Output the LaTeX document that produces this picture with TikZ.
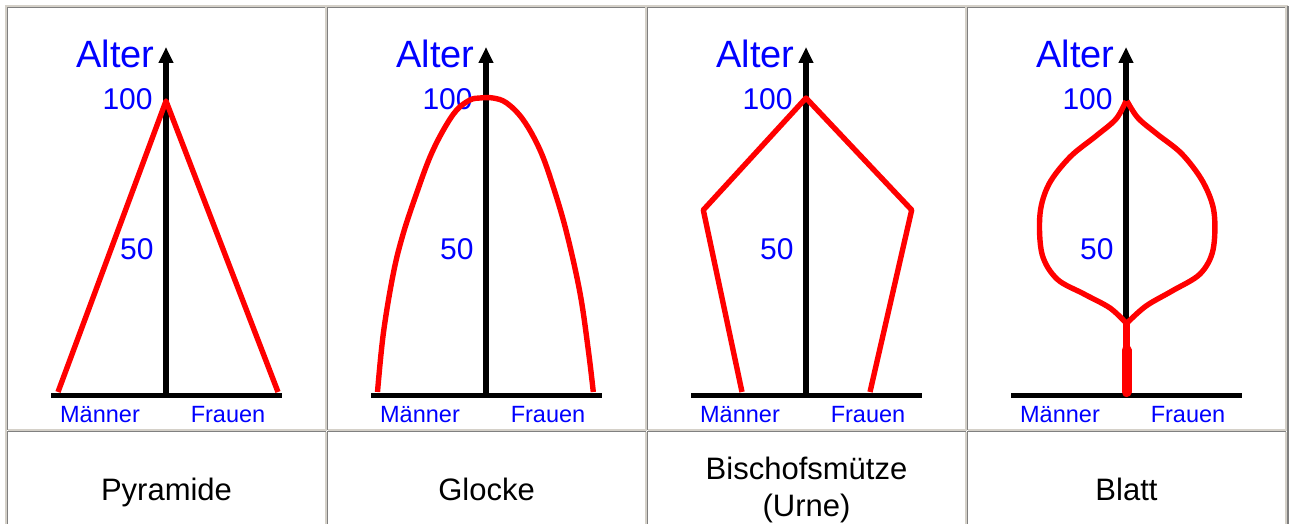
\documentclass[tikz,border=0pt]{standalone}
\usepackage{fontspec}
\setmainfont{Liberation Sans}
\usetikzlibrary{arrows.meta}

\definecolor{cellshade}{RGB}{128,128,128}
\definecolor{celllight}{RGB}{212,208,200}

\tikzset{
  axisline/.style={line width=2.6pt, black},
  curveline/.style={line width=2.7pt, red, line join=round},
  agelabel/.style={text=blue, inner sep=0pt, anchor=base east},
  sexlabel/.style={text=blue, inner sep=0pt, anchor=base, font=\fontsize{11.75}{14}\selectfont},
  namelabel/.style={inner sep=0pt, font=\fontsize{15.5}{18.5}\selectfont, align=center}
}

\begin{document}
\begin{tikzpicture}[x=0.5pt, y=-0.5pt]
        \useasboundingbox (0,0) rectangle (1290,524);
        \fill[white] (0,0) rectangle (1290,524);

        % Table frame
        \draw[celllight, line width=0.75pt] (6,524) -- (6,6) -- (1288,6);
        \draw[cellshade, line width=0.75pt] (1288,6) -- (1288,524);

        % Cells
        \foreach \i in {0,...,3} {
          \foreach \ya/\yb in {7.5/430, 431.5/530} {
            \draw[cellshade, line width=0.75pt] (7.5+320*\i,\yb) -- (7.5+320*\i,\ya) -- (326+320*\i,\ya);
            \draw[celllight, line width=0.75pt] (326+320*\i,\ya) -- (326+320*\i,\yb) -- (7.5+320*\i,\yb);
          }
        }

        % Axes and labels
        \foreach \i in {0,...,3} {
          \begin{scope}[shift={(320*\i,0)}]
            \draw[axisline] (51,395.5) -- (282,395.5);
            \draw[axisline, -{Triangle[width=7pt, length=8pt]}] (166,395.5) -- (166,47);
            \node[agelabel, font=\fontsize{19}{22}\selectfont] (alter\i) at (155,68) {Alter};
            \node[agelabel, font=\fontsize{15}{18}\selectfont] (hundert\i) at (153,110) {100};
            \node[agelabel, font=\fontsize{15}{18}\selectfont] (fuenfzig\i) at (154,259) {50};
            \node[sexlabel] (maenner\i) at (100,422) {Männer};
            \node[sexlabel] (frauen\i) at (228,422) {Frauen};
          \end{scope}
        }

        % Pyramide
        \draw[curveline] (58,392) -- (166,101) -- (278,392);

        % Glocke
        \begin{scope}[shift={(320,0)}]
          \draw[curveline] plot[smooth, tension=0.6] coordinates {
            (57.5,392) (63.4,333) (73.4,273) (83.4,233) (96.7,193) (110,157)
            (123.4,130) (136.7,110) (150,100) (160,98) (173,98) (186.7,103)
            (203.3,120) (220,150) (233.3,187) (246.7,233) (260,293) (268.3,350)
            (273.3,392)};
        \end{scope}

        % Bischofsmuetze
        \begin{scope}[shift={(640,0)}]
          \draw[curveline] (102,392) -- (63.3,210) -- (166,98) -- (271.7,210) -- (230,392);
        \end{scope}

        % Blatt
        \begin{scope}[shift={(960,0)}]
          \draw[curveline] plot[smooth, tension=0.55] coordinates {
            (167,101) (178,118) (197,134) (222,154) (243,182) (254,212)
            (253,250) (240,274) (212,291) (186,306) (167,323)};
          \draw[curveline] plot[smooth, tension=0.55] coordinates {
            (166,101) (156,119) (136,136) (110,157) (89,184) (80,214)
            (82,254) (97,279) (124,294) (150,308) (166,323)};
          \draw[red, line width=3.6pt] (166.5,322) -- (166.5,352);
          \draw[red, line width=5pt, line cap=round] (166.5,350) -- (166.5,392);
        \end{scope}

        % Names
        \node[namelabel, anchor=base] (pyramide) at (166.5,500) {Pyramide};
        \node[namelabel, anchor=base] (glocke) at (486.5,500) {Glocke};
        \node[namelabel] (bischofsmuetze) at (806.5,490) {Bischofsmütze\\(Urne)};
        \node[namelabel, anchor=base] (blatt) at (1126.5,500) {Blatt};
\end{tikzpicture}
\end{document}
